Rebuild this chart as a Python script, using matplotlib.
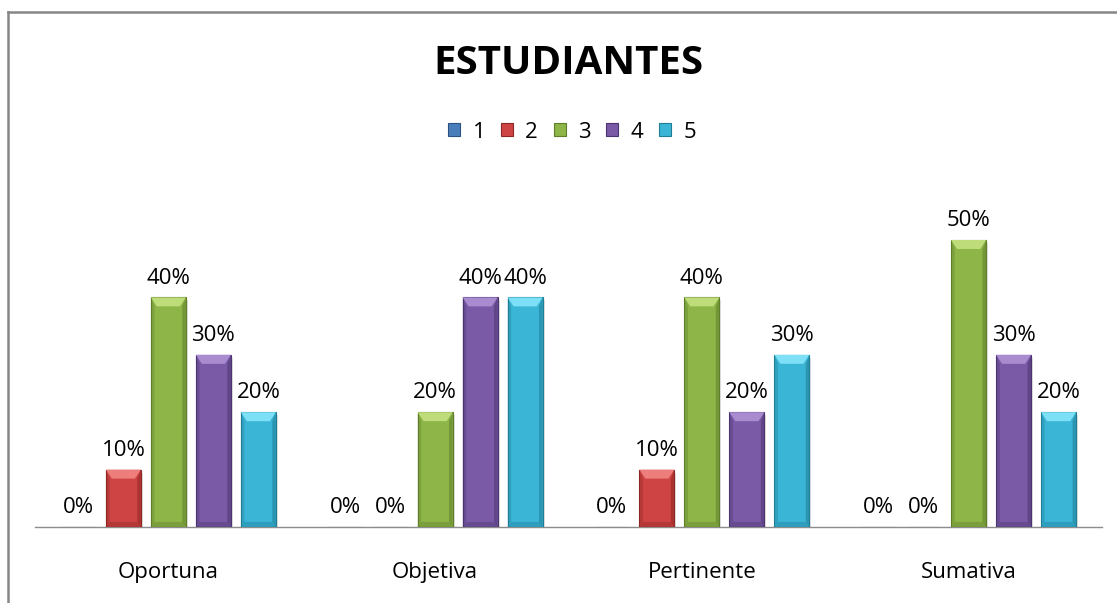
import matplotlib
matplotlib.use("Agg")
import matplotlib.pyplot as plt
from matplotlib.patches import Polygon, Rectangle
from matplotlib.lines import Line2D
import numpy as np

categories = ["Oportuna", "Objetiva", "Pertinente", "Sumativa"]
series_names = ["1", "2", "3", "4", "5"]
values = {
    "1": [0, 0, 0, 0],
    "2": [10, 0, 10, 0],
    "3": [40, 20, 40, 50],
    "4": [30, 40, 20, 30],
    "5": [20, 40, 30, 20],
}
face_colors = ["#4A7EBB", "#CE4444", "#8DB548", "#7A5AA6", "#3BB5D6"]
top_colors = ["#7AA6DA", "#EE7E7C", "#BEDD7A", "#A98CD0", "#7EE0F6"]
dark_colors = ["#2C5282", "#8E2624", "#5F7E2A", "#4B3570", "#1F7D96"]
title = "ESTUDIANTES"

plt.rcParams['font.family'] = ['Open Sans', 'DejaVu Sans']

W, H = 1117, 603
fig = plt.figure(figsize=(W / 100, H / 100), dpi=100)
ax = fig.add_axes([35 / W, 1 - 527 / H, 1067 / W, 344.4 / H])
ax.set_xlim(-0.5, 3.5)
ax.set_ylim(0, 60)

xpx = 1067 / 4.0      # pixels per x unit
ypx = 344.4 / 60.0    # pixels per y unit
bw = 35 / xpx
step = 45 / xpx
bev_x = 6 / xpx
bev_y = 9 / ypx
bot_y = 5 / ypx

x = np.arange(len(categories))
for i, name in enumerate(series_names):
    xs = x + (i - 2) * step
    vals = values[name]
    bars = ax.bar(xs, vals, width=bw, color=face_colors[i], edgecolor=dark_colors[i],
                  linewidth=0.8, zorder=3)
    for b, v in zip(bars, vals):
        x0 = b.get_x(); x1 = x0 + b.get_width(); h = b.get_height()
        if h > 0:
            # shadow
            ax.add_patch(Rectangle((x0 + 2 / xpx, -3 / ypx), b.get_width(), h,
                                   facecolor="#000000", alpha=0.12, linewidth=0, zorder=2))
            # top bevel
            ax.add_patch(Polygon([(x0, h), (x1, h), (x1 - bev_x, h - bev_y), (x0 + bev_x, h - bev_y)],
                                 closed=True, facecolor=top_colors[i], edgecolor='none', zorder=4))
            # side bevels
            ax.add_patch(Polygon([(x1, h), (x1, 0), (x1 - bev_x * 0.6, bot_y), (x1 - bev_x * 0.6, h - bev_y)],
                                 closed=True, facecolor=dark_colors[i], alpha=0.55, edgecolor='none', zorder=4))
            ax.add_patch(Polygon([(x0, h), (x0, 0), (x0 + bev_x * 0.6, bot_y), (x0 + bev_x * 0.6, h - bev_y)],
                                 closed=True, facecolor=dark_colors[i], alpha=0.35, edgecolor='none', zorder=4))
            # bottom bevel
            ax.add_patch(Polygon([(x0, 0), (x1, 0), (x1 - bev_x * 0.6, bot_y), (x0 + bev_x * 0.6, bot_y)],
                                 closed=True, facecolor=dark_colors[i], alpha=0.4, edgecolor='none', zorder=4))
        ax.annotate(f"{v}%", (b.get_x() + b.get_width() / 2, h), xytext=(0, 10),
                    textcoords="offset points", ha="center", va="baseline",
                    fontsize=16, color="#000000", zorder=5)

for s in ["top", "right", "left"]:
    ax.spines[s].set_visible(False)
ax.spines["bottom"].set_color("#8C8C8C")
ax.spines["bottom"].set_linewidth(1.0)
ax.set_yticks([])
ax.set_xticks(x)
ax.set_xticklabels(categories, fontsize=16)
ax.tick_params(axis="x", length=0, pad=25)

fig.text(568 / W, 1 - 63 / H, title, ha="center", va="center", fontsize=29, fontweight="bold")

handles = [Rectangle((0, 0), 1, 1, facecolor=face_colors[i], edgecolor=dark_colors[i], linewidth=0.8)
           for i in range(len(series_names))]
fig.legend(handles, series_names, loc="center", bbox_to_anchor=(572 / W, 1 - 132 / H), ncol=5,
           frameon=False, fontsize=16, handlelength=0.55, handleheight=0.55,
           handletextpad=0.55, columnspacing=0.7, borderpad=0)

# outer chart frame
fig.add_artist(Line2D([7.5 / W, 7.5 / W], [0, 1 - 12 / H], color="#878787", linewidth=1.8,
                      transform=fig.transFigure))
fig.add_artist(Line2D([7.5 / W, 1], [1 - 12 / H, 1 - 12 / H], color="#878787", linewidth=1.8,
                      transform=fig.transFigure))

fig.savefig("out.png", dpi=100)
